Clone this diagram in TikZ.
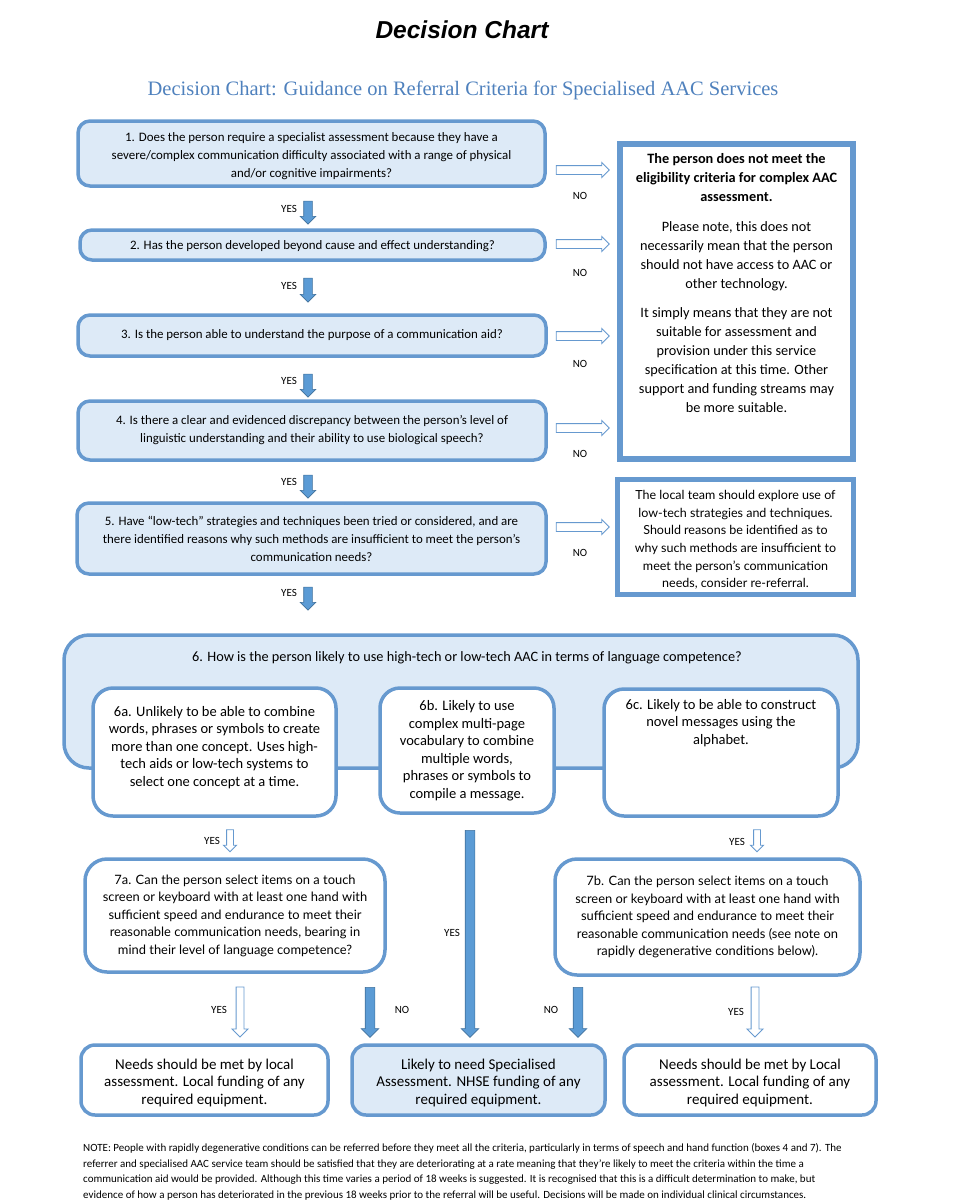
\documentclass[tikz,border=0pt]{standalone}
\usepackage{fontspec}
\setmainfont{Carlito}
\newfontfamily\titlefont{Liberation Sans}
\newfontfamily\subfont{Liberation Serif}
\newfontfamily\aptos{Lato}
\usetikzlibrary{shapes.arrows}
\definecolor{bordc}{RGB}{102,153,207}
\definecolor{lightb}{RGB}{221,234,247}
\definecolor{arrowf}{RGB}{91,155,213}
\definecolor{arrowd}{RGB}{65,113,156}
\definecolor{subc}{RGB}{79,129,189}
\tikzset{
  qbox/.style={draw=bordc, line width=3.5pt, fill=lightb, rounded corners=12pt, inner sep=0pt, align=center, font=\fontsize{12.9}{18}\selectfont},
  wbox/.style={qbox, fill=white},
  rbox/.style={draw=bordc, line width=6pt, fill=white, inner sep=0pt},
  fatdown/.style={single arrow, rotate=-90, fill=arrowf, draw=arrowd, line width=0.6pt, inner xsep=0pt, inner ysep=4pt, minimum width=0pt, single arrow head extend=3.5pt},
  hollowright/.style={single arrow, fill=white, draw=bordc, line width=0.9pt, inner xsep=0pt, inner ysep=4pt, minimum width=0pt, single arrow head extend=3pt},
  hollowdown/.style={hollowright, rotate=-90},
  lab/.style={font=\fontsize{11}{12}\selectfont, inner sep=0pt},
  sixtext/.style={font=\fontsize{14.5}{17.5}\selectfont},
  outtext/.style={font=\fontsize{15}{17.5}\selectfont},
}
\begin{document}
\begin{tikzpicture}[x=1pt,y=-1pt]
\useasboundingbox (0,0) rectangle (963,1200);
% titles
\node[font=\titlefont\bfseries\itshape\fontsize{24.5}{28}\selectfont] (title) at (462,30) {Decision Chart};
\node[font=\subfont\fontsize{20.5}{22}\selectfont, text=subc] (subtitle) at (463,90) {Decision Chart: Guidance on Referral Criteria for Specialised AAC Services};

% question boxes
\node[qbox, minimum width=467pt, minimum height=65pt] (b1) at (311.5,153.5) {\rule{0pt}{15pt}1. Does the person require a specialist assessment because they have a\\ severe/complex communication difficulty associated with a range of physical\\ and/or cognitive impairments?};
\node[qbox, minimum width=465pt, minimum height=30pt] (b2) at (312.5,245) {\rule{0pt}{12pt}2. Has the person developed beyond cause and effect understanding?};
\node[qbox, minimum width=468pt, minimum height=41pt] (b3) at (312,335.5) {3. Is the person able to understand the purpose of a communication aid?};
\node[qbox, minimum width=468pt, minimum height=59pt] (b4) at (312,430.5) {4. Is there a clear and evidenced discrepancy between the person’s level of\\ linguistic understanding and their ability to use biological speech?};
\node[qbox, minimum width=469pt, minimum height=71pt] (b5) at (311.5,538.5) {5. Have “low-tech” strategies and techniques been tried or considered, and are\\ there identified reasons why such methods are insufficient to meet the person’s\\ communication needs?};

% right boxes
\node[rbox, minimum width=233pt, minimum height=315pt] (nomeet) at (736.5,301.5) {};
\node[align=center, anchor=north, inner sep=0pt, font=\fontsize{14.3}{19}\selectfont] (nomeettext) at (736.5,153) {\textbf{The person does not meet the}\\ \textbf{eligibility criteria for complex AAC}\\ \textbf{assessment.}\\[11pt] Please note, this does not\\ necessarily mean that the person\\ should not have access to AAC or\\ other technology.\\[10pt] It simply means that they are not\\ suitable for assessment and\\ provision under this service\\ specification at this time. Other\\ support and funding streams may\\ be more suitable.};
\node[rbox, line width=5pt, minimum width=236pt, minimum height=115pt, align=center, font=\aptos\fontsize{12.5}{17.6}\selectfont] (lowtech) at (735.5,537) {\rule{0pt}{15pt}The local team should explore use of\\ low-tech strategies and techniques.\\ Should reasons be identified as to\\ why such methods are insufficient to\\ meet the person’s communication\\ needs, consider re-referral.};

% YES arrows between questions
\node[fatdown, minimum height=23pt] (y1) at (308,210.5) {};
\node[fatdown, minimum height=24pt] (y2) at (308,288) {};
\node[fatdown, minimum height=23pt] (y3) at (308,383.5) {};
\node[fatdown, minimum height=23pt] (y4) at (308,484.5) {};
\node[fatdown, minimum height=23pt] (y5) at (308,596.5) {};
\foreach \n/\yy in {1/209,2/286,3/381,4/482,5/593}{
  \node[lab] (yl\n) at (289,\yy) {YES};
}
% NO arrows to the right
\node[hollowright, minimum height=53pt] (n1) at (580.5,170) {};
\node[hollowright, minimum height=53pt] (n2) at (580.5,244) {};
\node[hollowright, minimum height=53pt] (n3) at (580.5,336) {};
\node[hollowright, minimum height=53pt] (n4) at (580.5,428) {};
\node[hollowright, minimum height=53pt] (n5) at (580.5,527) {};
\foreach \n/\yy in {1/196,2/273,3/364,4/454,5/553}{
  \node[lab] (nl\n) at (580,\yy) {NO};
}

% box 6
\node[qbox, rounded corners=25pt, minimum width=794pt, minimum height=133pt] (b6) at (461,701.5) {};
\node[font=\fontsize{14.3}{16}\selectfont, inner sep=0pt] (b6text) at (467,658) {6. How is the person likely to use high-tech or low-tech AAC in terms of language competence?};
\node[wbox, rounded corners=20pt, minimum width=243pt, minimum height=128pt, sixtext] (b6a) at (214.5,752) {6a. Unlikely to be able to combine\\ words, phrases or symbols to create\\ more than one concept. Uses high-\\ tech aids or low-tech systems to\\ select one concept at a time.\rule[-12pt]{0pt}{12pt}};
\node[wbox, rounded corners=20pt, minimum width=174pt, minimum height=125pt, sixtext] (b6b) at (467,750.5) {6b. Likely to use\\ complex multi-page\\ vocabulary to combine\\ multiple words,\\ phrases or symbols to\\ compile a message.};
\node[wbox, rounded corners=20pt, minimum width=234pt, minimum height=127pt] (b6c) at (721,752.5) {};
\node[align=center, anchor=north, inner sep=0pt, sixtext] (b6ctext) at (721,699) {6c. Likely to be able to construct\\ novel messages using the\\ alphabet.};

% arrows from 6
\node[hollowdown, minimum height=22pt, inner ysep=3pt, single arrow head extend=3pt] (a6a) at (230,839) {};
\node[lab] (a6al) at (212,841) {YES};
\node[hollowdown, minimum height=22pt, inner ysep=3pt, single arrow head extend=3pt] (a6c) at (757,839) {};
\node[lab] (a6cl) at (737,842) {YES};
\node[fatdown, minimum height=207pt, inner ysep=4.5pt, single arrow head extend=4pt] (a6b) at (470,931.5) {};
\node[lab] (a6bl) at (452,933) {YES};

% 7a 7b
\node[wbox, rounded corners=22pt, minimum width=300pt, minimum height=113pt, font=\aptos\fontsize{12.9}{17.5}\selectfont] (b7a) at (235,915.5) {7a. Can the person select items on a touch\\ screen or keyboard with at least one hand with\\ sufficient speed and endurance to meet their\\ reasonable communication needs, bearing in\\ mind their level of language competence?};
\node[wbox, rounded corners=22pt, minimum width=305pt, minimum height=116pt, font=\aptos\fontsize{12.9}{17.5}\selectfont] (b7b) at (707.5,917) {7b. Can the person select items on a touch\\ screen or keyboard with at least one hand with\\ sufficient speed and endurance to meet their\\ reasonable communication needs (see note on\\ rapidly degenerative conditions below).};

% arrows from 7
\node[hollowdown, minimum height=50pt, inner ysep=3.5pt, single arrow head extend=4pt] (a7ay) at (240,1010) {};
\node[lab] (a7ayl) at (219,1010) {YES};
\node[fatdown, minimum height=50pt, inner ysep=4.5pt, single arrow head extend=4pt] (a7an) at (370,1010) {};
\node[lab] (a7anl) at (402,1010) {NO};
\node[fatdown, minimum height=50pt, inner ysep=4.5pt, single arrow head extend=4pt] (a7bn) at (578,1010) {};
\node[lab] (a7bnl) at (551,1010) {NO};
\node[hollowdown, minimum height=50pt, inner ysep=3.5pt, single arrow head extend=4pt] (a7by) at (755,1010) {};
\node[lab] (a7byl) at (736,1012) {YES};

% outcome boxes
\node[wbox, rounded corners=14pt, minimum width=247pt, minimum height=70pt, outtext] (oL) at (204.5,1080) {\rule{0pt}{16pt}Needs should be met by local\\ assessment. Local funding of any\\ required equipment.};
\node[qbox, rounded corners=14pt, minimum width=253pt, minimum height=70pt, outtext] (oM) at (478.5,1080) {\rule{0pt}{16pt}Likely to need Specialised\\ Assessment. NHSE funding of any\\ required equipment.};
\node[wbox, rounded corners=14pt, minimum width=252pt, minimum height=70pt, outtext] (oR) at (750,1080) {\rule{0pt}{16pt}Needs should be met by Local\\ assessment. Local funding of any\\ required equipment.};

% note
\node[anchor=north west, align=left, inner sep=0pt, font=\fontsize{11}{15.8}\selectfont] (note) at (83,1143) {NOTE: People with rapidly degenerative conditions can be referred before they meet all the criteria, particularly in terms of speech and hand function (boxes 4 and 7). The\\ referrer and specialised AAC service team should be satisfied that they are deteriorating at a rate meaning that they’re likely to meet the criteria within the time a\\ communication aid would be provided. Although this time varies a period of 18 weeks is suggested. It is recognised that this is a difficult determination to make, but\\ evidence of how a person has deteriorated in the previous 18 weeks prior to the referral will be useful. Decisions will be made on individual clinical circumstances.};
\end{tikzpicture}
\end{document}
